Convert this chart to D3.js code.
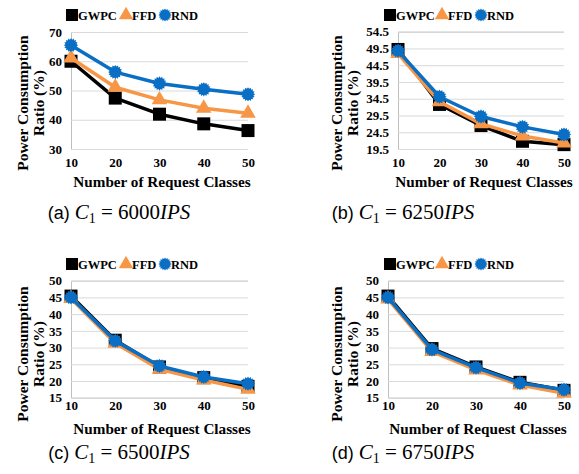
<!DOCTYPE html>
<html><head><meta charset="utf-8">
<script src="https://cdn.jsdelivr.net/npm/d3@7"></script>
<style>body{margin:0;background:#fff}svg{display:block}</style>
</head><body>
<script>
// ---- data ----
const categories = [10, 20, 30, 40, 50];
const seriesNames = ["GWPC", "FFD", "RND"];
const gwpcA = [60.0, 47.4, 41.9, 38.6, 36.3];
const ffdA  = [61.1, 51.1, 46.8, 43.9, 42.2];
const rndA  = [65.5, 56.3, 52.4, 50.4, 48.7];
const gwpcB = [49.2, 32.8, 26.5, 21.8, 20.8];
const ffdB  = [48.0, 33.6, 27.0, 23.4, 21.3];
const rndB  = [48.8, 35.1, 29.2, 26.1, 23.8];
const gwpcC = [45.4, 32.2, 24.2, 21.0, 18.4];
const ffdC  = [44.7, 31.3, 23.5, 20.3, 17.5];
const rndC  = [45.0, 32.0, 24.5, 21.2, 19.2];
const gwpcD = [45.4, 29.7, 24.2, 19.6, 17.2];
const ffdD  = [44.5, 28.8, 23.3, 18.8, 16.3];
const rndD  = [45.0, 29.4, 24.0, 19.4, 17.4];
const ticksA = [30, 40, 50, 60, 70];
const ticksB = [19.5, 24.5, 29.5, 34.5, 39.5, 44.5, 49.5, 54.5];
const ticksCD = [15, 20, 25, 30, 35, 40, 45, 50];
const captionIds = ["(a)", "(b)", "(c)", "(d)"];
const captionVals = ["6000", "6250", "6500", "6750"];
const xTitle = "Number of Request Classes";
const yTitle1 = "Power Consumption";
const yTitle2 = "Ratio (%)";

const colors = {GWPC: "#000000", FFD: "#F79646", RND: "#0A6FC4"};

const panels = [
  {series: [gwpcA, ffdA, rndA], ticks: ticksA, fmt: d3.format("d"),
   x0: 71, x1: 248, yT: 32, yB: 149, legY: 15, legX: [72, 126, 165],
   yTx: [22, 38.5], yTc: 103, xTx: 162, xTy: 187, tickY: 168, capX: 119, capY: 219},
  {series: [gwpcB, ffdB, rndB], ticks: ticksB, fmt: d3.format(".1f"),
   x0: 398, x1: 564, yT: 31.7, yB: 149, legY: 15, legX: [390, 442, 481],
   yTx: [336, 352.5], yTc: 103, xTx: 484, xTy: 187, tickY: 168, capX: 403, capY: 219},
  {series: [gwpcC, ffdC, rndC], ticks: ticksCD, fmt: d3.format("d"),
   x0: 71, x1: 248, yT: 280.7, yB: 397.7, legY: 264, legX: [72, 126, 165],
   yTx: [22, 38.5], yTc: 354, xTx: 162, xTy: 434, tickY: 411, capX: 119, capY: 459},
  {series: [gwpcD, ffdD, rndD], ticks: ticksCD, fmt: d3.format("d"),
   x0: 388, x1: 564, yT: 280.7, yB: 397.7, legY: 264, legX: [390, 442, 481],
   yTx: [336, 352.5], yTc: 354, xTx: 478, xTy: 434, tickY: 411, capX: 403, capY: 459}
];

const svg = d3.select("body").append("svg").attr("width", 579).attr("height", 474);
const serif = "'Liberation Serif','Times New Roman',serif";

// spiky blob marker for RND
function blobPath(r) {
  const n = 16, pts = [];
  for (let i = 0; i < n * 2; i++) {
    const a = i * Math.PI / n;
    pts.push([a, i % 2 === 0 ? r : r * 0.78]);
  }
  return d3.lineRadial().curve(d3.curveLinearClosed)(pts);
}
function markerPath(name, s) {
  if (name === "GWPC") return d3.symbol(d3.symbolSquare, s * s)();
  if (name === "FFD") return d3.symbol(d3.symbolTriangle, s * s * 0.62)();
  return blobPath(s * 0.55);
}

panels.forEach((p, pi) => {
  const g = svg.append("g");
  const x = d3.scalePoint().domain(categories).range([p.x0, p.x1]);
  const y = d3.scaleLinear().domain([p.ticks[0], p.ticks[p.ticks.length - 1]]).range([p.yB, p.yT]);

  // gridlines
  const yAxis = d3.axisLeft(y).tickValues(p.ticks).tickFormat(p.fmt).tickSize(-(p.x1 - p.x0)).tickPadding(9);
  const ya = g.append("g").attr("transform", `translate(${p.x0},0)`).call(yAxis);
  ya.select(".domain").attr("stroke", "#bfbfbf");
  ya.selectAll(".tick line").attr("stroke", "#d9d9d9");
  ya.selectAll(".tick text").attr("font-family", serif).attr("font-weight", "bold")
    .attr("font-size", 13).attr("fill", "#000");

  const xAxis = d3.axisBottom(x).tickSize(0).tickPadding(0);
  const xa = g.append("g").attr("transform", `translate(0,${p.tickY - 10})`).call(xAxis);
  xa.select(".domain").remove();
  xa.selectAll(".tick text").attr("font-family", serif).attr("font-weight", "bold")
    .attr("font-size", 13).attr("fill", "#000").attr("dy", "0.71em");

  // lines
  const line = d3.line().x((d, i) => x(categories[i])).y(d => y(d));
  seriesNames.forEach((name, si) => {
    const vals = p.series[si];
    g.append("path").datum(vals).attr("d", line).attr("fill", "none")
      .attr("stroke", colors[name]).attr("stroke-width", 3.5).attr("stroke-linejoin", "round");
    g.selectAll(null).data(vals).enter().append("path")
      .attr("d", markerPath(name, 13))
      .attr("transform", (d, i) => `translate(${x(categories[i])},${y(d)})`)
      .attr("fill", colors[name]);
  });

  // legend
  seriesNames.forEach((name, si) => {
    g.append("path").attr("d", markerPath(name, 12))
      .attr("transform", `translate(${p.legX[si]},${p.legY})`).attr("fill", colors[name]);
    g.append("text").attr("x", p.legX[si] + 6).attr("y", p.legY + 4.5)
      .attr("font-family", serif).attr("font-weight", "bold").attr("font-size", 12.5)
      .text(name);
  });

  // axis titles
  g.append("text").attr("x", p.xTx).attr("y", p.xTy).attr("text-anchor", "middle")
    .attr("font-family", serif).attr("font-weight", "bold").attr("font-size", 15.2).text(xTitle);
  [yTitle1, yTitle2].forEach((t, k) => {
    g.append("text").attr("transform", `translate(${p.yTx[k]},${p.yTc}) rotate(-90)`)
      .attr("text-anchor", "middle").attr("dominant-baseline", "central")
      .attr("font-family", serif).attr("font-weight", "bold").attr("font-size", 15.5).text(t);
  });

  // caption
  const cap = svg.append("text").attr("x", p.capX).attr("y", p.capY).attr("text-anchor", "middle");
  cap.append("tspan").attr("font-family", "'Liberation Sans',Arial,sans-serif").attr("font-size", 18)
    .text(captionIds[pi] + " ");
  cap.append("tspan").attr("font-family", serif).attr("font-style", "italic").attr("font-size", 21).text("C");
  cap.append("tspan").attr("font-family", serif).attr("font-size", 14).attr("dy", 4).text("1");
  cap.append("tspan").attr("font-family", serif).attr("font-size", 21).attr("dy", -4)
    .text(" = " + captionVals[pi]);
  cap.append("tspan").attr("font-family", serif).attr("font-style", "italic").attr("font-size", 21).text("IPS");
});
</script>
</body></html>
